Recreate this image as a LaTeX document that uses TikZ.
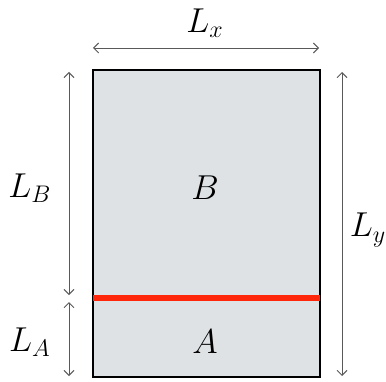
\documentclass[tikz,border=0pt]{standalone}
\usepackage{amsmath, amssymb}
\usetikzlibrary{arrows, arrows.meta, positioning}

\begin{document}
\begin{tikzpicture}[x=0.5pt,y=0.5pt]

\tikzset{dim/.style = {draw=black!65, line width=0.45pt, {Straight Barb[length=2.5pt,width=5pt]}-{Straight Barb[length=2.5pt,width=5pt]}}}
\tikzset{lbl/.style = {inner sep=0pt, font=\LARGE}}
\definecolor{boxgray}{RGB}{223,226,229}
\definecolor{cutred}{RGB}{255,38,10}
\useasboundingbox (0,0) rectangle (386,381);
% box
\coordinate (sw) at (93,4);
\coordinate (ne) at (320,311);
\filldraw[fill=boxgray, draw=black, line width=1pt] (sw) rectangle (ne);
\coordinate (cl) at (93,83);
\coordinate (cr) at (320,83);
\draw[cutred, line width=2.6pt] (cl) -- (cr);
% dimension ends
\coordinate (xl) at (93,333);
\coordinate (xr) at (319,333);
\coordinate (bt) at (69,309);
\coordinate (bb) at (69,86);
\coordinate (at) at (69,79);
\coordinate (ab) at (69,5);
\coordinate (yt) at (342,309);
\coordinate (yb) at (342,5);
% labels
\node[lbl] (lx) at (205,358) {$L_x$};
\node[lbl] (lb) at (30,193) {$L_B$};
\node[lbl] (la) at (30,39) {$L_A$};
\node[lbl] (ly) at (368,151) {$L_y$};
\node[lbl] (b) at (205,193) {$B$};
\node[lbl] (a) at (205,39) {$A$};
% arrows
\draw[dim] (xl) -- (xr);
\draw[dim] (bt) -- (bb);
\draw[dim] (at) -- (ab);
\draw[dim] (yt) -- (yb);
\end{tikzpicture}
\end{document}
